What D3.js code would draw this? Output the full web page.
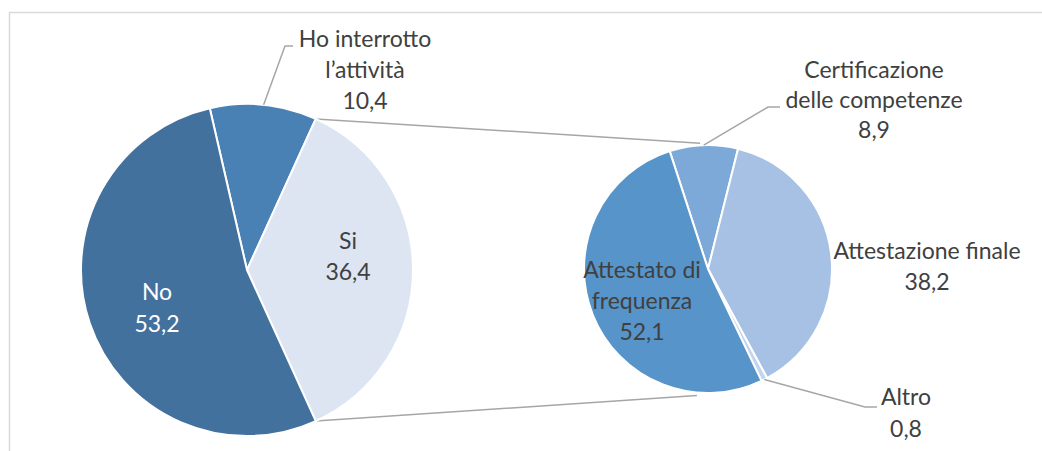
<!DOCTYPE html>
<html>
<head>
<meta charset="utf-8">
<script src="https://cdn.jsdelivr.net/npm/d3@7"></script>
<style>
  html, body { margin: 0; padding: 0; background: #fff; }
  svg { display: block; }
  text { font-family: Lato, "Noto Sans", sans-serif; font-size: 23px; fill: #404040; }
</style>
</head>
<body>
<svg id="chart" width="1042" height="451"></svg>
<script>
// ---- Data ----
const mainCategories = ["Ho interrotto l’attività", "Si", "No"];
const mainValues = [10.4, 36.4, 53.2];
const mainLabelLines = [["Ho interrotto", "l’attività", "10,4"], ["Si", "36,4"], ["No", "53,2"]];

const subCategories = ["Certificazione delle competenze", "Attestazione finale", "Altro", "Attestato di frequenza"];
const subValues = [8.9, 38.2, 0.8, 52.1];
const subLabelLines = [["Certificazione", "delle competenze", "8,9"], ["Attestazione finale", "38,2"], ["Altro", "0,8"], ["Attestato di", "frequenza", "52,1"]];

// ---- Layout ----
const svg = d3.select("#chart");
const deg = Math.PI / 180;
const mainC = {x: 247, y: 270, r: 166};
const subC = {x: 708, y: 269, r: 124};
const mainColors = ["#4a81b5", "#dde5f3", "#43719d"];
const subColors = ["#7da9d9", "#a7c1e4", "#c3d5ee", "#5694ca"];
const lineGray = "#a6a6a6";

// chart frame (right/bottom edges lie outside the view)
svg.append("rect").attr("x", 9.5).attr("y", 12.5).attr("width", 1100).attr("height", 500)
  .attr("fill", "none").attr("stroke", "#d9d9d9").attr("stroke-width", 1.5);

// main pie: "Si" slice centred on the right (90deg)
const siShare = mainValues[1] / d3.sum(mainValues) * 360;
const hoShare = mainValues[0] / d3.sum(mainValues) * 360;
const mainStart = (90 - siShare / 2 - hoShare) * deg;
const mainPie = d3.pie().sort(null).startAngle(mainStart).endAngle(mainStart + 2 * Math.PI);
const mainArcs = mainPie(mainValues);
const mainArc = d3.arc().innerRadius(0).outerRadius(mainC.r);

const subStart = -18 * deg;
const subPie = d3.pie().sort(null).startAngle(subStart).endAngle(subStart + 2 * Math.PI);
const subArcs = subPie(subValues);
const subArc = d3.arc().innerRadius(0).outerRadius(subC.r);

function polar(c, a, r) { return [c.x + r * Math.sin(a), c.y - r * Math.cos(a)]; }

// series connector lines
const si = mainArcs[1];
const line = d3.line();
svg.append("path").attr("d", line([polar(mainC, si.startAngle, mainC.r), polar(subC, -3.6 * deg, subC.r + 2)]))
  .attr("fill", "none").attr("stroke", lineGray).attr("stroke-width", 1.5);
svg.append("path").attr("d", line([polar(mainC, si.endAngle, mainC.r), polar(subC, 185 * deg, subC.r + 3)]))
  .attr("fill", "none").attr("stroke", lineGray).attr("stroke-width", 1.5);

svg.append("g").attr("transform", `translate(${mainC.x},${mainC.y})`)
  .selectAll("path").data(mainArcs).join("path")
  .attr("d", mainArc).attr("fill", (d, i) => mainColors[i])
  .attr("stroke", "#fff").attr("stroke-width", 2).attr("stroke-linejoin", "round");

svg.append("g").attr("transform", `translate(${subC.x},${subC.y})`)
  .selectAll("path").data(subArcs).join("path")
  .attr("d", subArc).attr("fill", (d, i) => subColors[i])
  .attr("stroke", "#fff").attr("stroke-width", 2).attr("stroke-linejoin", "round");

// leader lines (from slice mid-angle on the rim to the label)
function mid(a) { return (a.startAngle + a.endAngle) / 2; }
const leaders = [
  [polar(mainC, mid(mainArcs[0]), mainC.r), [285, 46], [293, 46]],
  [polar(subC, mid(subArcs[0]), subC.r), [768, 107], [780, 107]],
  [polar(subC, mid(subArcs[2]), subC.r), [865, 407], [877, 407]]
];
leaders.forEach(p => svg.append("path").attr("d", line(p))
  .attr("fill", "none").attr("stroke", lineGray).attr("stroke-width", 1.5));

// labels
const labelPos = [
  {lines: mainLabelLines[0], x: 365, y: 47, dy: 31, fill: "#404040"},
  {lines: mainLabelLines[1], x: 348, y: 249, dy: 31, fill: "#404040"},
  {lines: mainLabelLines[2], x: 157, y: 300, dy: 32, fill: "#ffffff"},
  {lines: subLabelLines[0], x: 874, y: 78, dy: 30, fill: "#404040"},
  {lines: subLabelLines[1], x: 927, y: 259, dy: 31, fill: "#404040"},
  {lines: subLabelLines[2], x: 906, y: 405, dy: 32, fill: "#404040"},
  {lines: subLabelLines[3], x: 642, y: 278, dy: 31, fill: "#404040"}
];
labelPos.forEach(l => {
  const t = svg.append("text").attr("text-anchor", "middle").style("fill", l.fill);
  l.lines.forEach((s, i) => t.append("tspan").attr("x", l.x).attr("y", l.y + i * l.dy).text(s));
});
</script>
</body>
</html>
